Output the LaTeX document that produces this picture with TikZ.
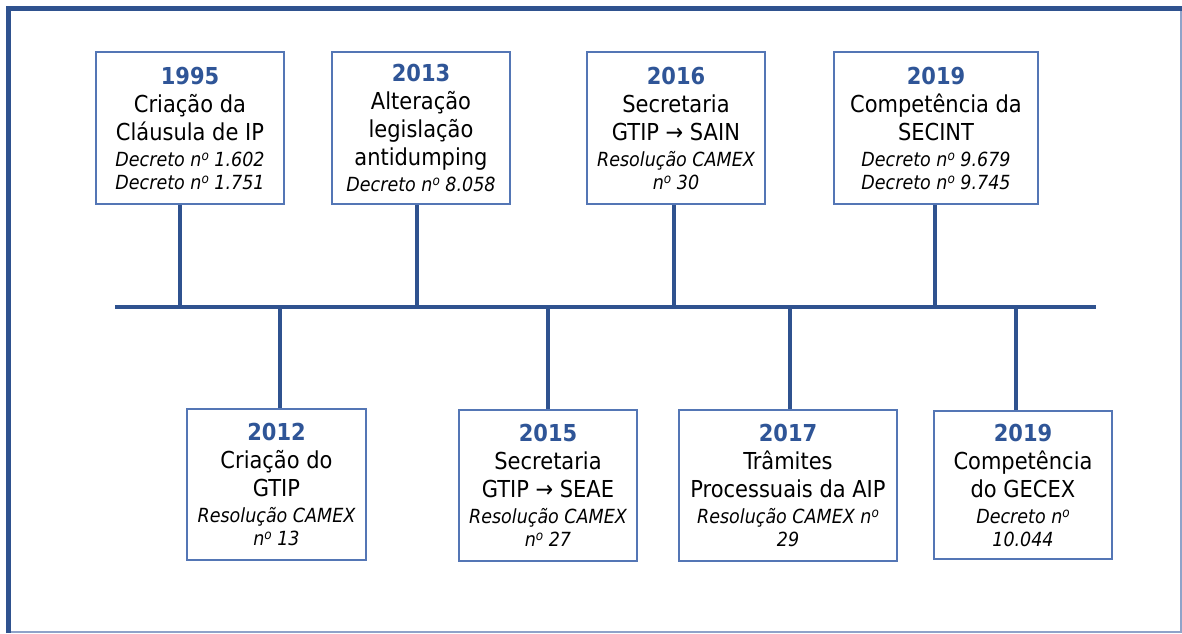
\documentclass[tikz,border=0pt]{standalone}
\usepackage{fontspec}
\setmainfont{DejaVu Sans Condensed}
\definecolor{lineblue}{RGB}{47,82,143}
\definecolor{boxblue}{RGB}{84,118,181}
\definecolor{yearblue}{RGB}{47,85,151}
\definecolor{edgegrey}{RGB}{143,163,201}
\newcommand{\yr}[1]{\textcolor{yearblue}{\bfseries #1}}
\newcommand{\lei}[1]{{\fontsize{14.6}{16.5}\selectfont\itshape #1}}
\newcommand{\nro}{n\raisebox{0.55ex}{\fontsize{10}{10}\selectfont\itshape o}}
\tikzset{every picture/.style={line width=0.75pt}}
\tikzset{
  evbox/.style={draw=boxblue, line width=0.9pt, fill=white, align=center, inner sep=0pt,
    font=\fontsize{17.5}{21}\selectfont},
  stem/.style={draw=lineblue, line width=3pt},
}

\begin{document}
\begin{tikzpicture}[x=0.75pt,y=0.75pt,yscale=-1,xscale=1]
    \useasboundingbox (0,0) rectangle (1182,633);

    %Shape: Frame
    \draw [edgegrey, line width=1.1pt] (1181,8.5) -- (1181,632) -- (8.5,632) ;
    \draw [lineblue, line width=3.3pt] (8.5,633) -- (8.5,8.5) -- (1182,8.5) ;

    %Straight Lines: time axis
    \coordinate (axisL) at (115,307);
    \coordinate (axisR) at (1096,307);
    \draw [stem] (axisL) -- (axisR) ;

    % ticks on the axis
    \coordinate (t1995) at (180,307);
    \coordinate (t2013) at (417,307);
    \coordinate (t2016) at (674,307);
    \coordinate (t2019a) at (935,307);
    \coordinate (t2012) at (280,307);
    \coordinate (t2015) at (548,307);
    \coordinate (t2017) at (790,307);
    \coordinate (t2019b) at (1016,307);

    % Text Node
    \node [evbox, minimum width=188*0.75pt, minimum height=152*0.75pt] (b1995) at (190,128)
      {\yr{1995}\\ Criação da\\ Cláusula de IP\\[-1.5pt] \lei{Decreto \nro{} 1.602}\\[-3.75pt] \lei{Decreto \nro{} 1.751}};
    % Text Node
    \node [evbox, minimum width=178*0.75pt, minimum height=152*0.75pt] (b2013) at (421,128)
      {\yr{2013}\\ Alteração\\ legislação\\ antidumping\\[-1.5pt] \lei{Decreto \nro{} 8.058}};
    % Text Node
    \node [evbox, minimum width=178*0.75pt, minimum height=152*0.75pt] (b2016) at (676,128)
      {\yr{2016}\\ Secretaria\\ GTIP → SAIN\\[-1.5pt] \lei{Resolução CAMEX}\\[-3.75pt] \lei{\nro{} 30}};
    % Text Node
    \node [evbox, minimum width=204*0.75pt, minimum height=152*0.75pt] (b2019a) at (936,128)
      {\yr{2019}\\ Competência da\\ SECINT\\[-1.5pt] \lei{Decreto \nro{} 9.679}\\[-3.75pt] \lei{Decreto \nro{} 9.745}};

    % Text Node
    \node [evbox, minimum width=179*0.75pt, minimum height=151*0.75pt] (b2012) at (276.5,484.5)
      {\yr{2012}\\ Criação do\\ GTIP\\[-1.5pt] \lei{Resolução CAMEX}\\[-3.75pt] \lei{\nro{} 13}};
    % Text Node
    \node [evbox, minimum width=178*0.75pt, minimum height=151*0.75pt] (b2015) at (548,485.5)
      {\yr{2015}\\ Secretaria\\ GTIP → SEAE\\[-1.5pt] \lei{Resolução CAMEX}\\[-3.75pt] \lei{\nro{} 27}};
    % Text Node
    \node [evbox, minimum width=218*0.75pt, minimum height=151*0.75pt] (b2017) at (788,485.5)
      {\yr{2017}\\ Trâmites\\ Processuais da AIP\\[-1.5pt] \lei{Resolução CAMEX \nro}\\[-3.75pt] \lei{29}};
    % Text Node
    \node [evbox, minimum width=178*0.75pt, minimum height=148*0.75pt] (b2019b) at (1023,485)
      {\yr{2019}\\ Competência\\ do GECEX\\[-1.5pt] \lei{Decreto \nro}\\[-3.75pt] \lei{10.044}};

    %Straight Lines: stems
    \draw [stem] (t1995) -- (t1995 |- b1995.south) ;
    \draw [stem] (t2013) -- (t2013 |- b2013.south) ;
    \draw [stem] (t2016) -- (t2016 |- b2016.south) ;
    \draw [stem] (t2019a) -- (t2019a |- b2019a.south) ;
    \draw [stem] (t2012) -- (t2012 |- b2012.north) ;
    \draw [stem] (t2015) -- (t2015 |- b2015.north) ;
    \draw [stem] (t2017) -- (t2017 |- b2017.north) ;
    \draw [stem] (t2019b) -- (t2019b |- b2019b.north) ;

\end{tikzpicture}
\end{document}
